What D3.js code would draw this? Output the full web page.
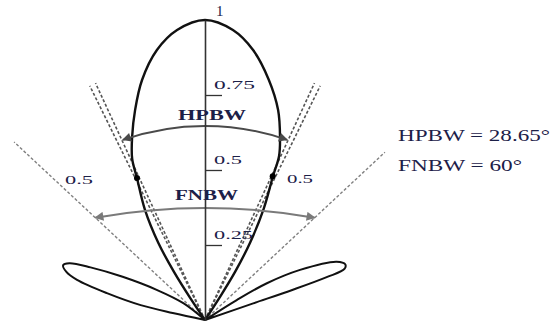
<!DOCTYPE html>
<html><head><meta charset="utf-8">
<script src="https://cdn.jsdelivr.net/npm/d3@7"></script>
<style>html,body{margin:0;padding:0;background:#fff;} svg{display:block;}</style>
</head><body>
<svg id="chart" width="557" height="325"></svg>
<script>
// ---- data (angles in degrees from boresight, positive = right; radii normalized) ----
const mainLobeAngles = [-34.5, -33.8, -32.8, -31.2, -28.6, -25.6, -24.3, -21.7, -18.4, -14.7, -10.1, -5.5, 0, 5.5, 10.1, 14.9, 19.2, 22.3, 24.3, 25.3, 27.8, 30.2, 32, 33, 33.6];
const mainLobeRadii  = [0, 0.09, 0.19, 0.30, 0.418, 0.525, 0.59, 0.657, 0.738, 0.827, 0.914, 0.971, 1.0, 0.971, 0.914, 0.828, 0.741, 0.659, 0.60, 0.53, 0.42, 0.30, 0.19, 0.09, 0];
const leftLobeAngles = [-50, -52, -58, -62.3, -65.3, -67.3, -68.9, -70.8, -72.6, -74.7, -77, -77.8, -78.3];
const leftLobeRadii  = [0, 0.09, 0.19, 0.31, 0.42, 0.49, 0.507, 0.49, 0.447, 0.339, 0.22, 0.11, 0];
const rightLobeAngles = [55, 57.8, 59.3, 62.2, 66.1, 68.3, 69.9, 70.6, 71, 71, 71];
const rightLobeRadii  = [0, 0.125, 0.24, 0.358, 0.48, 0.503, 0.495, 0.43, 0.31, 0.17, 0];
const tickValues = [0.25, 0.5, 0.75, 1];
const tickLabels = ["0.25", "0.5", "0.75", "1"];
const halfPowerAngles = [-26.2, -24.8, 24.8, 26.2];   // inner dashed lines
const halfPowerLength = 0.87;
const nullAngles = [-47, 47];                          // outer dashed lines
const nullLengths = [0.87, 0.82];
const dotAngles = [-25.6, 25.2];
const dotRadii = [0.525, 0.53];
const hpbwArc = {angle: 24.5, r: 0.66, apex: 0.647};
const fnbwArc = {angle: 47, r: 0.5, apex: 0.373};
const sideLabels = [{text: "0.5", x: 65, y: 184, len: 28}, {text: "0.5", x: 287, y: 183, len: 26}];
const noteLines = ["HPBW = 28.65°", "FNBW = 60°"];

// ---- setup ----
const svg = d3.select("#chart");
const W = 557, H = 325;
svg.append("rect").attr("width", W).attr("height", H).attr("fill", "#fff");
const cx = 205, cy = 320;
const rScale = d3.scaleLinear().domain([0, 1]).range([0, 300]);
const yScale = d3.scaleLinear().domain([0, 1]).range([cy, cy - 300]);
const rad = d => d * Math.PI / 180;
const g = svg.append("g").attr("transform", `translate(${cx},${cy})`);
const textColor = "#1c2048";
const font = "'Liberation Serif', 'Times New Roman', serif";

const polar = (a, r) => [rScale(r) * Math.sin(rad(a)), -rScale(r) * Math.cos(rad(a))];

const defs = svg.append("defs");
function marker(id, color) {
  defs.append("marker").attr("id", id).attr("viewBox", "0 0 10 10")
    .attr("refX", 9).attr("refY", 5).attr("markerUnits", "userSpaceOnUse")
    .attr("markerWidth", 12).attr("markerHeight", 9)
    .attr("orient", "auto-start-reverse")
    .append("path").attr("d", "M0,0 L10,5 L0,10 z").attr("fill", color);
}
marker("arrH", "#4a4a4a");
marker("arrF", "#7a7a7a");

// outer dashed (null) lines
nullAngles.forEach((a, i) => {
  const [x, y] = polar(a, nullLengths[i]);
  g.append("line").attr("x1", 0).attr("y1", 0).attr("x2", x).attr("y2", y)
    .attr("stroke", "#808080").attr("stroke-width", 1.4).attr("stroke-dasharray", "3,2");
});
// inner dashed lines
halfPowerAngles.forEach(a => {
  const [x, y] = polar(a, halfPowerLength);
  g.append("line").attr("x1", 0).attr("y1", 0).attr("x2", x).attr("y2", y)
    .attr("stroke", "#555").attr("stroke-width", 1.6).attr("stroke-dasharray", "3,2");
});

// lobes
const radial = d3.lineRadial().curve(d3.curveCatmullRom.alpha(0.5));
function lobe(angles, radii, w) {
  const pts = angles.map((a, i) => [rad(a), rScale(radii[i])]);
  g.append("path").attr("d", radial(pts)).attr("fill", "none")
    .attr("stroke", "#111").attr("stroke-width", w).attr("stroke-linejoin", "round");
}
lobe(mainLobeAngles, mainLobeRadii, 2.4);
lobe(leftLobeAngles, leftLobeRadii, 2);
lobe(rightLobeAngles, rightLobeRadii, 2);

// vertical axis
const axis = d3.axisRight(yScale).tickValues(tickValues).tickSize(17).tickSizeOuter(0)
  .tickFormat((d, i) => tickLabels[i]);
const ax = svg.append("g").attr("transform", `translate(${cx},0)`).call(axis);
ax.attr("font-size", null).attr("font-family", null);
ax.select(".domain").attr("stroke", "#333").attr("stroke-width", 1.6);
ax.selectAll(".tick line").attr("stroke", "#333").attr("stroke-width", 1.3)
  .attr("x2", d => d === 1 ? 0 : 17);
const lens = {"0.25": 39, "0.5": 28, "0.75": 41};
ax.selectAll(".tick text")
  .attr("x", d => d === 1 ? 11 : 9).attr("dy", d => d === 1 ? -5 : -7)
  .attr("font-family", font).attr("font-size", d => d === 1 ? 15 : 13).attr("fill", textColor)
  .attr("text-anchor", "start")
  .each(function(d, i) {
    const L = lens[tickLabels[i]];
    if (L) d3.select(this).attr("textLength", L).attr("lengthAdjust", "spacingAndGlyphs");
  });

// arcs with arrows
function arc(spec, color, mk) {
  const [x1, y1] = polar(-spec.angle, spec.r);
  const [x2, y2] = polar(spec.angle, spec.r);
  const ya = -rScale(spec.apex);
  const c = (x2 - x1) / 2, s = y1 - ya;
  const R = (c * c + s * s) / (2 * s);
  g.append("path").attr("d", `M${x1},${y1} A${R},${R} 0 0 1 ${x2},${y2}`)
    .attr("fill", "none").attr("stroke", color).attr("stroke-width", 2)
    .attr("marker-start", `url(#${mk})`).attr("marker-end", `url(#${mk})`);
}
arc(fnbwArc, "#7a7a7a", "arrF");
arc(hpbwArc, "#4a4a4a", "arrH");

// dots
dotAngles.forEach((a, i) => {
  const [x, y] = polar(a, dotRadii[i]);
  g.append("circle").attr("cx", x).attr("cy", y).attr("r", 3).attr("fill", "#000");
});

// labels
function label(t, x, y, len, size, bold) {
  svg.append("text").attr("x", x).attr("y", y).text(t)
    .attr("font-family", font).attr("font-size", size).attr("fill", textColor)
    .attr("font-weight", bold ? "bold" : "normal")
    .attr("textLength", len).attr("lengthAdjust", "spacingAndGlyphs");
}
label("HPBW", 178, 120, 68, 14, true);
label("FNBW", 175, 200, 63, 14, true);
sideLabels.forEach(d => label(d.text, d.x, d.y, d.len, 13, false));
label(noteLines[0], 398, 141, 152, 17, false);
label(noteLines[1], 398, 171, 124, 17, false);
</script>
</body></html>
